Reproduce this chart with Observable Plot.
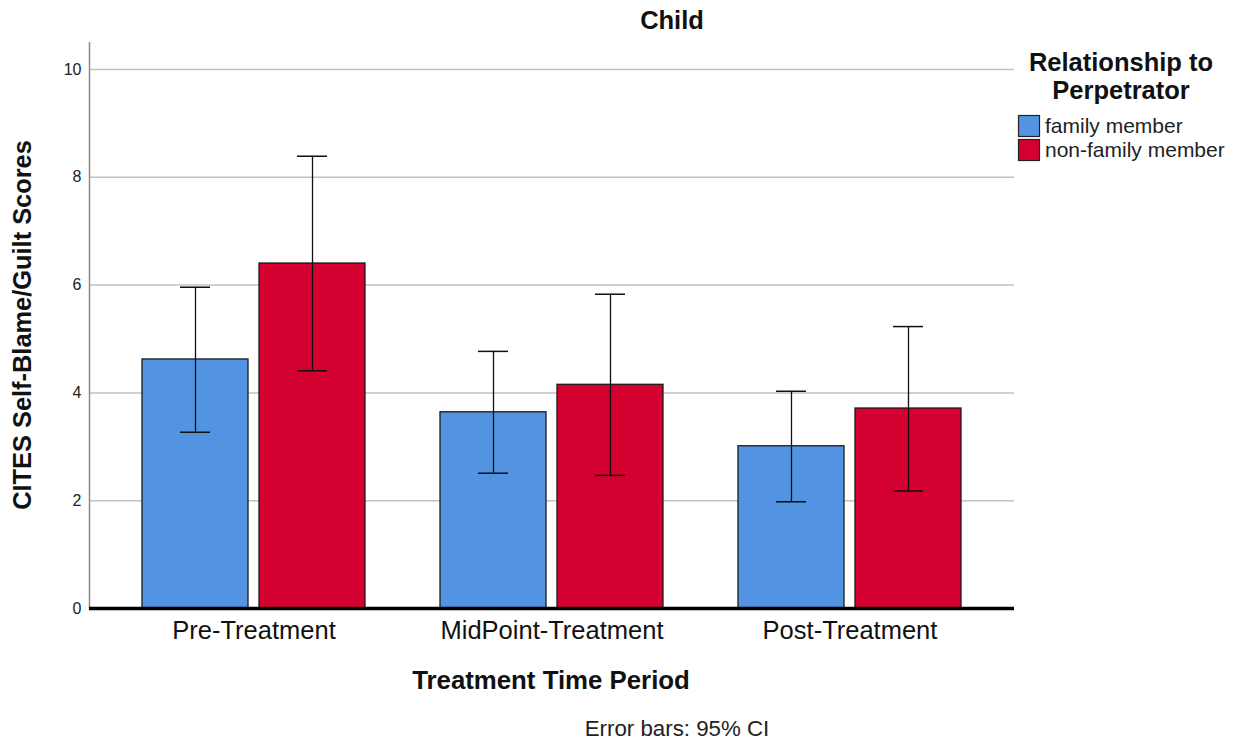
<!DOCTYPE html>
<html>
<head>
<meta charset="utf-8">
<script src="https://cdn.jsdelivr.net/npm/d3@7"></script>
<script src="https://cdn.jsdelivr.net/npm/@observablehq/plot@0.6"></script>
<style>
  html, body { margin: 0; padding: 0; background: #fff; }
  #chart { position: relative; width: 1237px; height: 744px; font-family: "Liberation Sans", Arial, sans-serif; }
  #chart > svg { position: absolute; left: 0; top: 0; }
</style>
</head>
<body>
<div id="chart"></div>
<script>
// ---- data ----
const periods = ["Pre-Treatment", "MidPoint-Treatment", "Post-Treatment"];
const groups = ["family member", "non-family member"];
const familyMean = [4.62, 3.64, 3.01];
const familyLo = [3.27, 2.51, 1.98];
const familyHi = [5.96, 4.77, 4.03];
const nonFamilyMean = [6.40, 4.15, 3.71];
const nonFamilyLo = [4.41, 2.47, 2.18];
const nonFamilyHi = [8.39, 5.83, 5.23];
const groupColors = ["#5394E2", "#D40030"];
const yTickCount = 6;
const yGrid = [2, 4, 6, 8, 10];
const yDomain = [0, 10.5];

const title = "Child";
const xTitle = "Treatment Time Period";
const yTitle = "CITES Self-Blame/Guilt Scores";
const legendTitle = ["Relationship to", "Perpetrator"];
const caption = "Error bars: 95% CI";

const rows = [];
periods.forEach((p, i) => {
  rows.push({period: p, group: groups[0], mean: familyMean[i], lo: familyLo[i], hi: familyHi[i]});
  rows.push({period: p, group: groups[1], mean: nonFamilyMean[i], lo: nonFamilyLo[i], hi: nonFamilyHi[i]});
});

const W = 1237, H = 744;
const margins = {marginLeft: 89, marginRight: 223, marginTop: 42, marginBottom: 136};
const font = "\"Liberation Sans\", Arial, sans-serif";
const chart = document.getElementById("chart");

// Layer A: grid + y axis
const plotA = Plot.plot({
  width: W, height: H, ...margins,
  style: {background: "transparent", fontFamily: font, fontSize: "16px", color: "#222"},
  x: {domain: [0, 1], axis: null},
  y: {domain: yDomain, ticks: yTickCount, tickSize: 0, tickPadding: 8, label: null},
  marks: [
    Plot.ruleY(yGrid, {stroke: "#c2c2c2", strokeWidth: 1.5}),
    Plot.ruleX([0], {stroke: "#8a8a8a", strokeWidth: 1.5})
  ]
});
chart.appendChild(plotA);

// Layer B: grouped bars with error bars
const plotB = Plot.plot({
  width: W, height: H, ...margins,
  style: {background: "transparent", fontFamily: font, fontSize: "25.5px", color: "#111"},
  fx: {domain: periods, paddingInner: 0.246, paddingOuter: 0.174, label: null, tickSize: 0, tickPadding: 12, axis: "bottom"},
  x: {domain: groups, paddingInner: 0.093, paddingOuter: 0, axis: null},
  y: {domain: yDomain, axis: null},
  color: {domain: groups, range: groupColors},
  marks: [
    Plot.barY(rows, {fx: "period", x: "group", y: "mean", fill: "group", stroke: "#1b1b1b", strokeWidth: 1.3}),
    Plot.ruleX(rows, {fx: "period", x: "group", y1: "lo", y2: "hi", stroke: "#111", strokeWidth: 1.3}),
    Plot.tickY(rows, {fx: "period", x: "group", y: "lo", stroke: "#111", strokeWidth: 1.5, insetLeft: 38, insetRight: 38}),
    Plot.tickY(rows, {fx: "period", x: "group", y: "hi", stroke: "#111", strokeWidth: 1.5, insetLeft: 38, insetRight: 38})
  ]
});
chart.appendChild(plotB);

// Layer C: baseline
const plotC = Plot.plot({
  width: W, height: H, ...margins,
  style: {background: "transparent"},
  x: {domain: [0, 1], axis: null},
  y: {domain: yDomain, axis: null},
  marks: [Plot.ruleY([0], {stroke: "#000", strokeWidth: 3.5})]
});
chart.appendChild(plotC);

// Text overlay: titles, legend, caption
const color = plotB.scale("color");
const svg = d3.select(chart).append("svg")
  .attr("width", W).attr("height", H)
  .style("font-family", font).style("pointer-events", "none");

svg.append("text").attr("x", 672).attr("y", 29).attr("text-anchor", "middle")
  .attr("font-weight", "bold").attr("font-size", 25.5).attr("fill", "#111").text(title);

svg.append("text").attr("x", 551).attr("y", 689).attr("text-anchor", "middle")
  .attr("font-weight", "bold").attr("font-size", 25.8).attr("fill", "#111").text(xTitle);

svg.append("text").attr("transform", "translate(31,325) rotate(-90)").attr("text-anchor", "middle")
  .attr("font-weight", "bold").attr("font-size", 25.4).attr("fill", "#111").text(yTitle);

svg.append("text").attr("x", 677).attr("y", 736).attr("text-anchor", "middle")
  .attr("font-size", 22.3).attr("fill", "#222").text(caption);

const lg = svg.append("g");
legendTitle.forEach((t, i) => {
  lg.append("text").attr("x", 1121).attr("y", 71 + i * 28).attr("text-anchor", "middle")
    .attr("font-weight", "bold").attr("font-size", 25.5).attr("fill", "#111").text(t);
});
color.domain.forEach((g, i) => {
  const y0 = 115 + i * 24;
  lg.append("rect").attr("x", 1018.5).attr("y", y0 + 0.5).attr("width", 21).attr("height", 21)
    .attr("fill", color.range[i]).attr("stroke", "#222").attr("stroke-width", 1.2);
  lg.append("text").attr("x", 1045).attr("y", y0 + 18).attr("font-size", 21).attr("fill", "#222").text(g);
});
</script>
</body>
</html>
